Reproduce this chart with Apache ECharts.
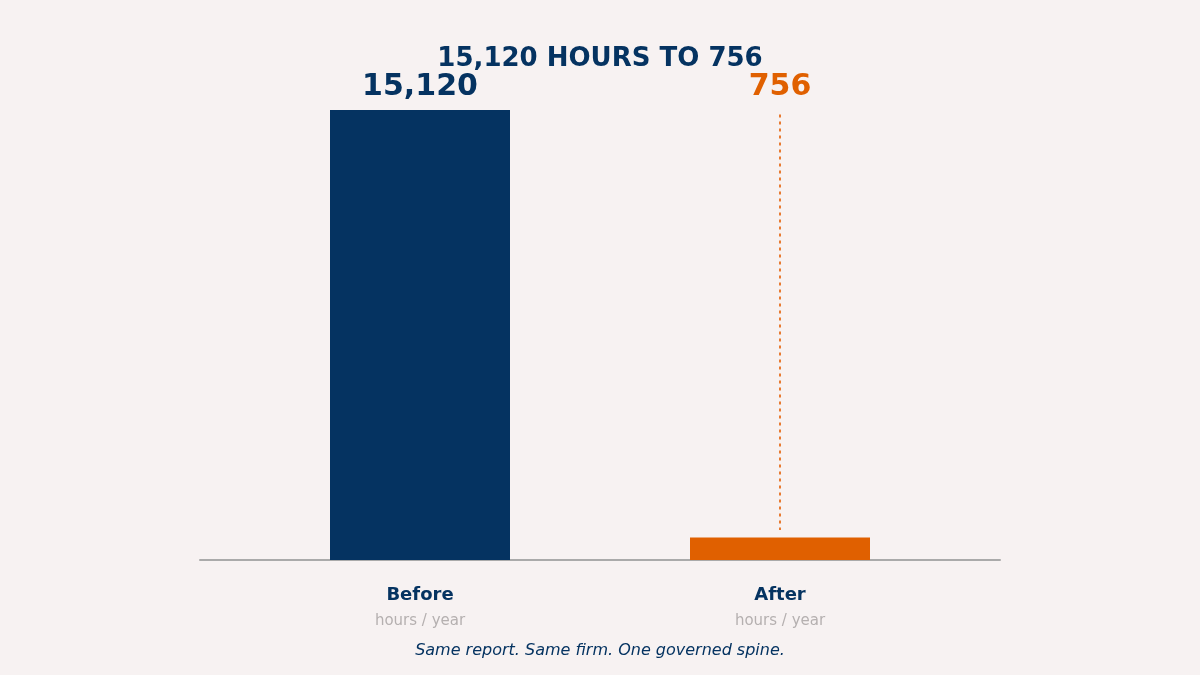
<!DOCTYPE html>
<html lang="en">
<head>
    <meta charset="utf-8">
    <title>15,120 hours to 756</title>
    <script type="text/javascript" src="https://cdn.jsdelivr.net/npm/echarts@6/dist/echarts.min.js"></script>
    <style>
        html, body { margin: 0; padding: 0; background: #f7f2f2; }
    </style>
</head>
<body>
    <div id="main" style="width:1200px;height:675px;"></div>

    <script type="text/javascript">
    // data
    var categories = ['Before', 'After'];
    var hours = [15120, 756];
    var unitLabel = 'hours / year';
    var barColors = ['#053361', '#e06000'];

    var NAVY = '#053361';
    var FONT = 'DejaVu Sans';

    var myChart = echarts.init(document.getElementById('main'));

    myChart.setOption({
        backgroundColor: '#f7f2f2',
        animation: false,
        textStyle: { fontFamily: FONT },
        title: [{
            text: '15,120 HOURS TO 756',
            left: 'center',
            top: 41,
            textStyle: { color: NAVY, fontSize: 26, fontWeight: 'bold', fontFamily: FONT }
        }, {
            text: 'Same report. Same firm. One governed spine.',
            left: 'center',
            top: 638,
            textStyle: { color: NAVY, fontSize: 16, fontStyle: 'italic', fontWeight: 'normal', fontFamily: FONT }
        }],
        // grid 0 holds the bars, grid 1 only draws the wider baseline
        grid: [
            { left: 240, right: 240, top: 110, bottom: 115 },
            { left: 200, right: 200, top: 110, bottom: 115 }
        ],
        xAxis: [{
            type: 'category',
            gridIndex: 0,
            data: categories,
            axisLine: { show: false },
            axisTick: { show: false },
            axisLabel: {
                margin: 22,
                formatter: function (v) { return '{a|' + v + '}\n{b|' + unitLabel + '}'; },
                rich: {
                    a: { color: NAVY, fontSize: 18, fontWeight: 'bold', lineHeight: 26, fontFamily: FONT },
                    b: { color: '#b5b0b0', fontSize: 15, lineHeight: 26, fontFamily: FONT }
                }
            }
        }, {
            type: 'value',
            gridIndex: 1,
            min: 0,
            max: 1,
            axisLine: { show: true, lineStyle: { color: '#aaaaaa', width: 2 } },
            axisTick: { show: false },
            axisLabel: { show: false },
            splitLine: { show: false }
        }],
        yAxis: [{
            type: 'value',
            gridIndex: 0,
            min: 0,
            max: hours[0],
            show: false,
            splitLine: { show: false }
        }, {
            type: 'value',
            gridIndex: 1,
            show: false,
            splitLine: { show: false }
        }],
        series: [{
            type: 'bar',
            barWidth: 180,
            z: 3,
            data: hours.map(function (v, i) {
                return { value: v, itemStyle: { color: barColors[i] } };
            }),
            markLine: {
                silent: true,
                symbol: 'none',
                label: { show: false },
                lineStyle: { color: '#e87a30', type: [3, 4], width: 2 },
                data: [[
                    { coord: [categories[1], hours[0] - 150] },
                    { coord: [categories[1], hours[1] + 250] }
                ]]
            }
        }, {
            // value labels all sit on the top line of the plot
            type: 'scatter',
            symbolSize: 0,
            itemStyle: { opacity: 1 },
            data: hours.map(function (v, i) {
                return {
                    value: [categories[i], hours[0]],
                    label: { color: barColors[i] },
                    raw: v
                };
            }),
            label: {
                show: true,
                position: 'top',
                distance: 8,
                fontSize: 30,
                fontWeight: 'bold',
                fontFamily: FONT,
                formatter: function (p) { return p.data.raw.toLocaleString('en-US'); }
            }
        }]
    });
    </script>
</body>
</html>
